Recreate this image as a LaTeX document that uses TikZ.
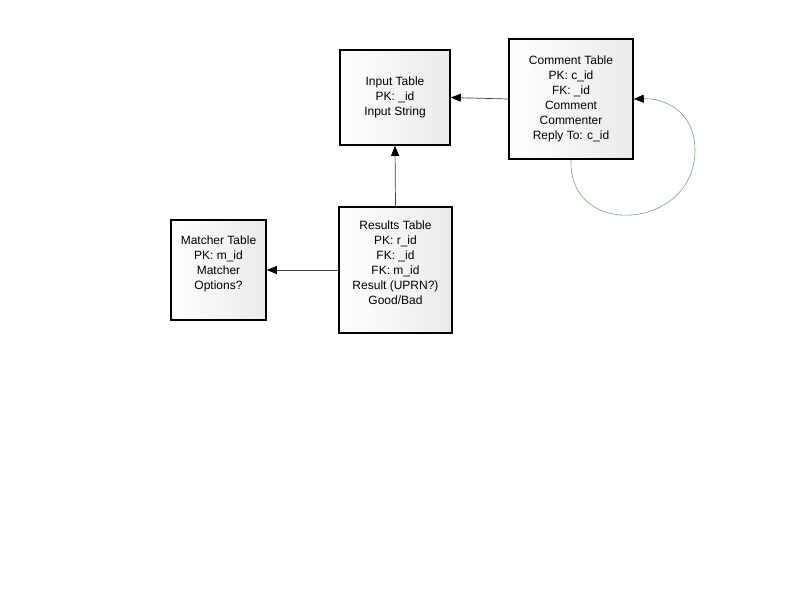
\documentclass[tikz,border=0pt]{standalone}
\usepackage{fontspec}
\setmainfont{Liberation Sans}
\usetikzlibrary{arrows.meta,shadows}
\definecolor{loopgreen}{RGB}{110,170,110}
\tikzset{
  tablebox/.style={draw=black, line width=1.6pt, align=center, inner sep=0pt,
    left color=white, right color=black!8,
    drop shadow={shadow xshift=1pt, shadow yshift=-1pt, fill=black!60, opacity=0.6},
    font=\fontsize{12}{15}\selectfont},
  conn/.style={line width=0.7pt, draw=black!75, -{Triangle[length=10pt,width=8pt,color=black]}},
}
\begin{document}
\begin{tikzpicture}[x=1pt,y=-1pt]
\useasboundingbox (0,0) rectangle (800,600);
\node[tablebox, minimum width=110pt, minimum height=95pt] (input) at (395,97.5)
  {Input Table\\PK: \_id\\Input String};
\node[tablebox, minimum width=124pt, minimum height=120pt] (comment) at (571,99)
  {Comment Table\\PK: c\_id\\FK: \_id\\Comment\\Commenter\\Reply To: c\_id};
\node[tablebox, minimum width=113pt, minimum height=126pt] (results) at (395.5,270)
  {Results Table\\PK: r\_id\\FK: \_id\\FK: m\_id\\Result (UPRN?)\\Good/Bad\\\mbox{}};
\node[tablebox, minimum width=95pt, minimum height=100pt] (matcher) at (218.5,270)
  {Matcher Table\\PK: m\_id\\Matcher\\Options?\\\mbox{}};
\draw[conn] (comment.west) -- (input.east);
\draw[conn] (results.north) -- (input.south);
\draw[conn] (results.west) -- (matcher.east);
\draw[line width=0.6pt, draw=loopgreen, -{Triangle[length=10pt,width=8pt,color=black]}]
  (comment.south) .. controls (568,240) and (695,230) .. (695,150)
  .. controls (695,112) and (665,98) .. (comment.east);
\end{tikzpicture}
\end{document}
